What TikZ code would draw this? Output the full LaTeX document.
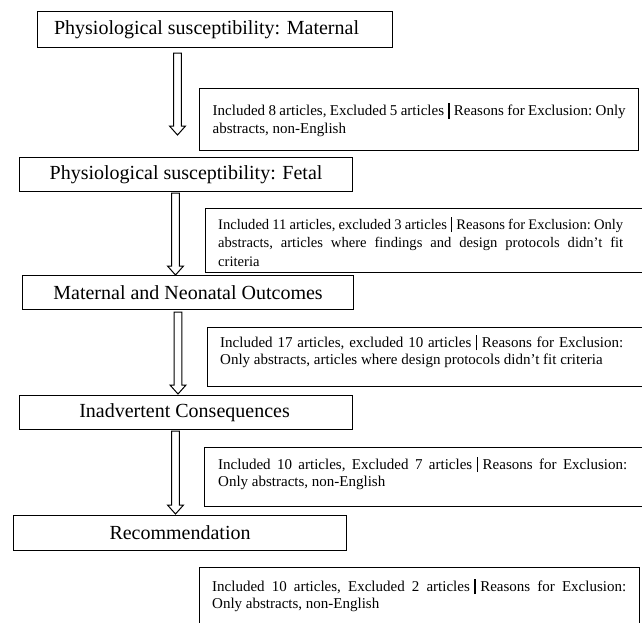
\documentclass[tikz,border=0pt]{standalone}
\usepackage{fontspec}
\setmainfont{Liberation Serif}
\usetikzlibrary{calc}
\newcommand\hollowarrow[2]{%
  \draw[arrowline] ($(#1)+(-3.8,0)$) -- ($(#2)+(-3.8,-9)$) -- ($(#2)+(-8,-9)$) -- (#2)
    -- ($(#2)+(8,-9)$) -- ($(#2)+(3.8,-9)$) -- ($(#1)+(3.8,0)$) -- cycle;}
\newcommand\xbar{\hspace{4.5pt minus 2pt}\rule[-3pt]{1.5pt}{15.5pt}\hspace{4.5pt minus 2pt}}
\newcommand\jline[1]{\makebox[\hsize][s]{#1}}
\tikzset{
  mainbox/.style={draw, line width=1.1pt, inner sep=0pt, anchor=north west,
    font=\fontsize{20}{24}\selectfont},
  frame/.style={draw, line width=1.1pt, inner sep=0pt, anchor=north west},
  sidetext/.style={inner sep=0pt, anchor=base west, align=left,
    font=\fontsize{15}{17.8}\selectfont,
    execute at begin node={\frenchspacing\spaceskip=0.25em plus 0.4em minus 0.14em\relax}},
  arrowline/.style={draw, line width=1pt, fill=white, line join=miter},
}
\begin{document}
\begin{tikzpicture}[x=1pt,y=-1pt]
\useasboundingbox[fill=white] (0,0) rectangle (642,622);
% main boxes
\node[mainbox, minimum width=355pt, minimum height=36pt] (b1) at (37,11) {\hspace*{-17pt}Physiological susceptibility: Maternal};
\node[mainbox, minimum width=333pt, minimum height=34pt] (b2) at (19,157) {Physiological susceptibility: Fetal};
\node[mainbox, minimum width=331pt, minimum height=34pt] (b3) at (22,275) {Maternal and Neonatal Outcomes};
\node[mainbox, minimum width=333pt, minimum height=34pt] (b4) at (19,395) {\hspace*{-3pt}Inadvertent Consequences};
\node[mainbox, minimum width=333pt, minimum height=35pt] (b5) at (13,515) {Recommendation};
% side frames
\node[frame, minimum width=439pt, minimum height=62pt] (s1) at (199,88) {};
\node[frame, minimum width=455pt, minimum height=64pt] (s2) at (205,208) {};
\node[frame, minimum width=455pt, minimum height=59pt] (s3) at (207,327) {};
\node[frame, minimum width=455pt, minimum height=59pt] (s4) at (204,447) {};
\node[frame, minimum width=440pt, minimum height=100pt] (s5) at (199,567) {};
% side texts
\node[sidetext, text width=413pt] (t1) at (212.5,115.5) {\jline{Included 8 articles, Excluded 5 articles\xbar Reasons for Exclusion: Only}\\ abstracts, non-English};
\node[sidetext, text width=405pt, font=\fontsize{14.6}{18.6}\selectfont] (t2) at (218,229) {\jline{Included 11 articles, excluded 3 articles\xbar Reasons for Exclusion: Only}\\ \jline{abstracts, articles where findings and design protocols didn’t fit}\\ criteria};
\node[sidetext, text width=403pt] (t3) at (220,347) {\jline{Included 17 articles, excluded 10 articles\xbar Reasons for Exclusion:}\\ Only abstracts, articles where design protocols didn’t fit criteria};
\node[sidetext, text width=409pt] (t4) at (218,469) {\jline{Included 10 articles, Excluded 7 articles\xbar Reasons for Exclusion:}\\ Only abstracts, non-English};
\node[sidetext, text width=414pt] (t5) at (212,591) {\jline{Included 10 articles, Excluded 2 articles\xbar Reasons for Exclusion:}\\ Only abstracts, non-English};
% arrows
\coordinate (a1s) at (177.5,53);  \coordinate (a1e) at (177.5,135);
\coordinate (a2s) at (175.5,193); \coordinate (a2e) at (175.5,275);
\coordinate (a3s) at (178,312);   \coordinate (a3e) at (178,394);
\coordinate (a4s) at (175.5,431); \coordinate (a4e) at (175.5,514);
\hollowarrow{a1s}{a1e}
\hollowarrow{a2s}{a2e}
\hollowarrow{a3s}{a3e}
\hollowarrow{a4s}{a4e}
\end{tikzpicture}
\end{document}
